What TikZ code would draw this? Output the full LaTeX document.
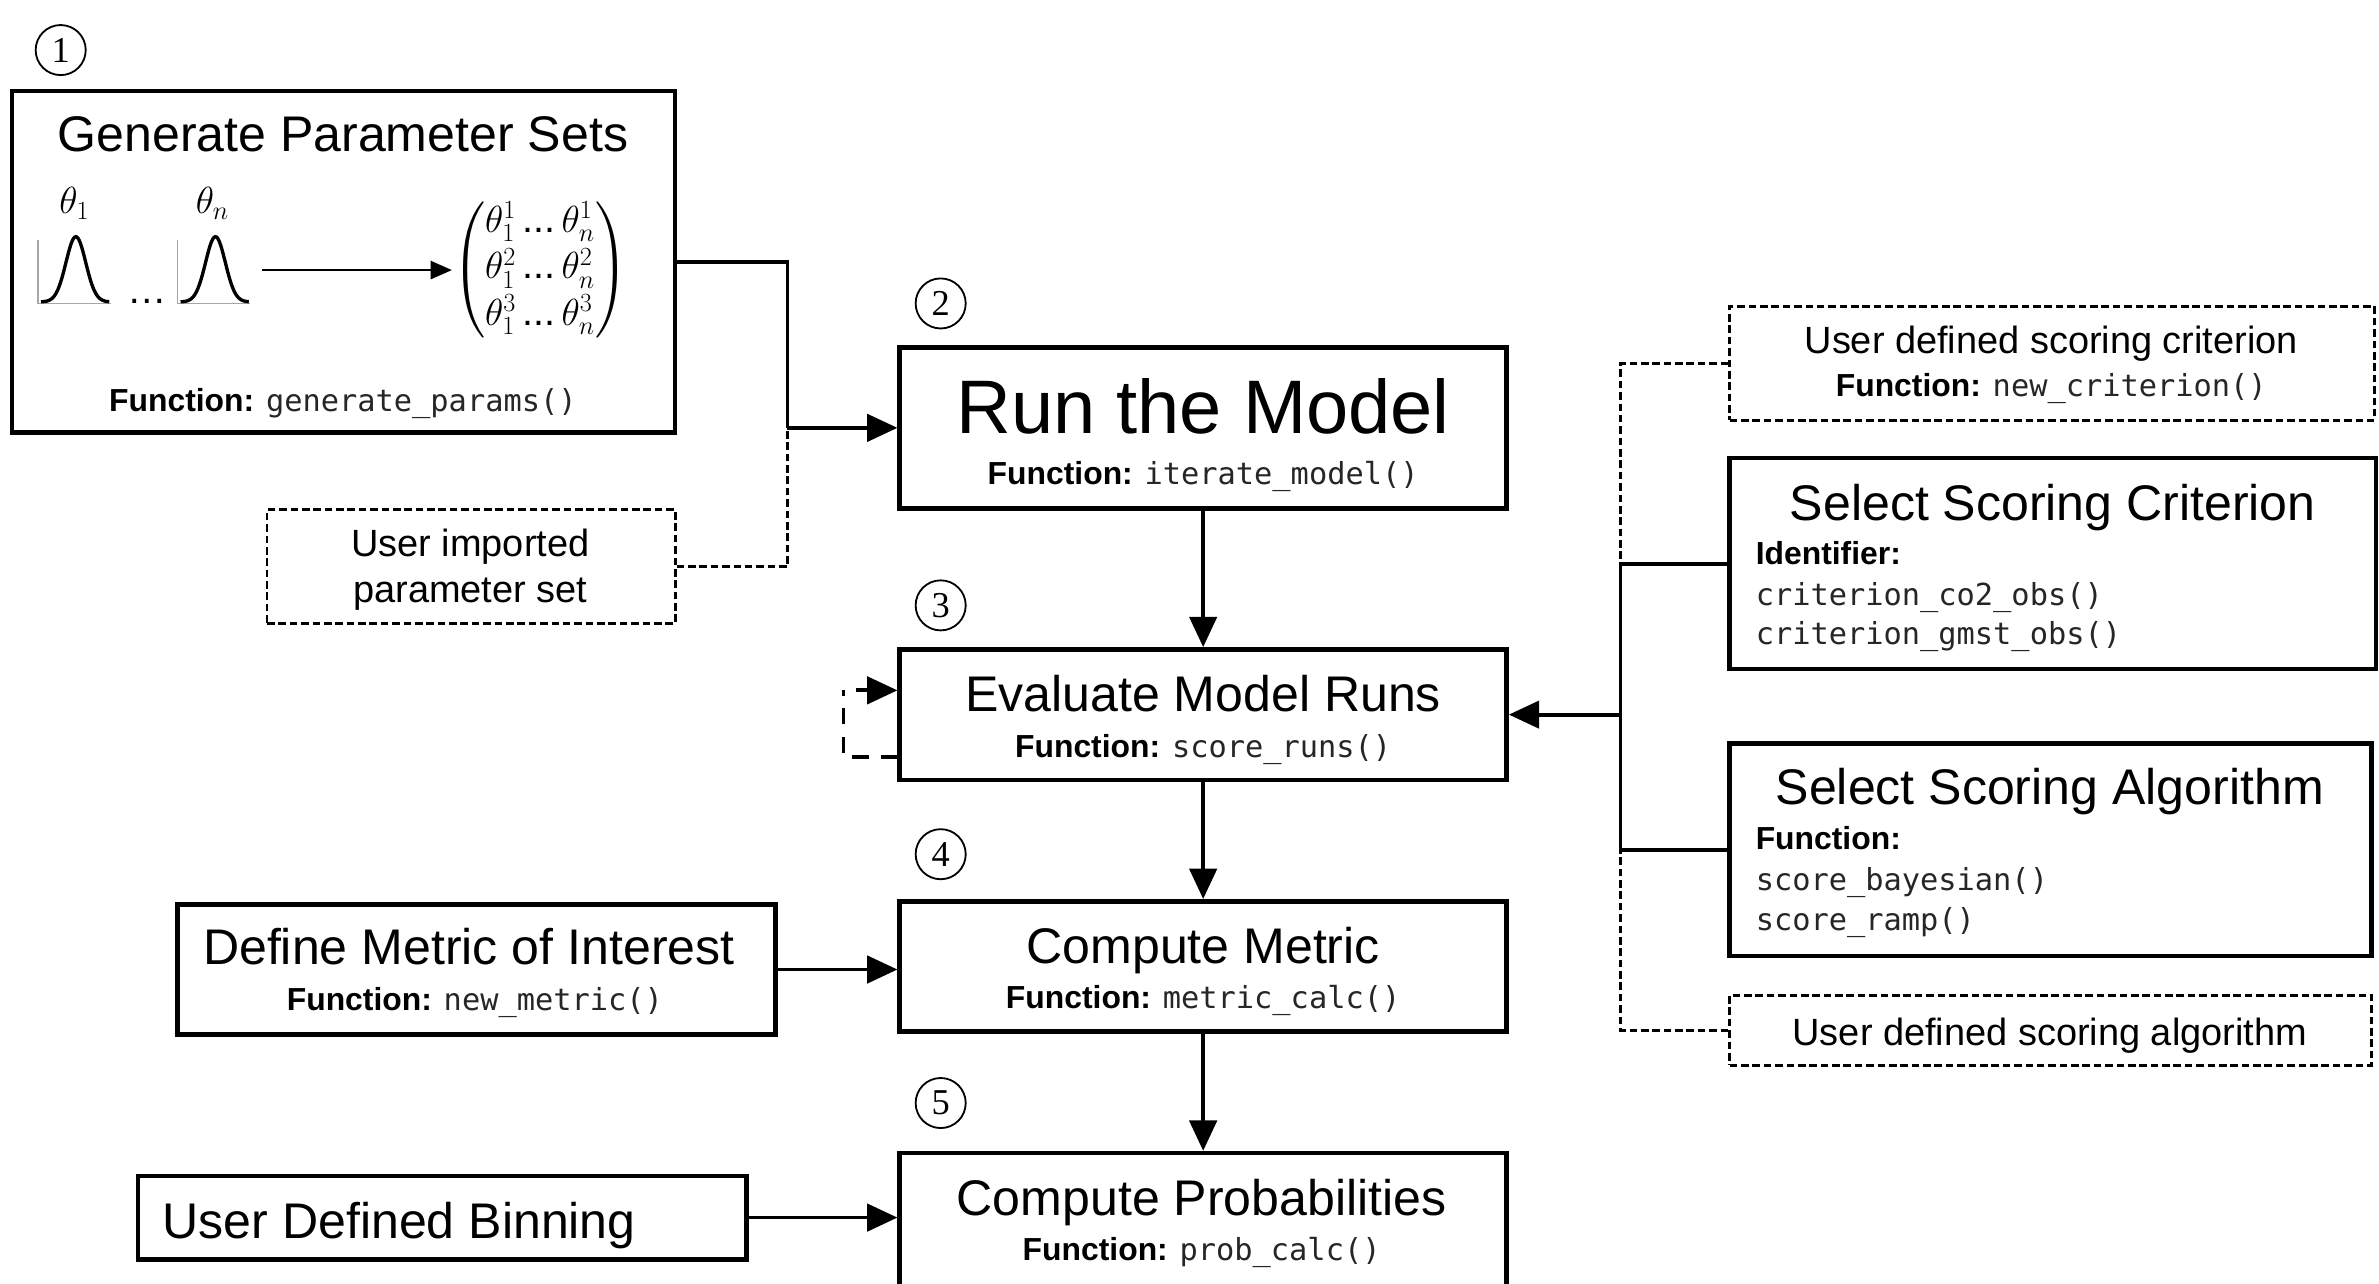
\documentclass[tikz,border=0pt]{standalone}
\usepackage{amsmath}
\usepackage{fontspec}
\setmainfont{Liberation Sans}
\newfontfamily\codefont{DejaVu Sans Mono}
\newfontfamily\numfont{Liberation Serif}
\usetikzlibrary{arrows.meta,calc}
\tikzset{
  box/.style={draw, line width=3pt, inner sep=0pt},
  dbox/.style={draw, line width=1.9pt, dash pattern=on 5pt off 2.5pt, inner sep=0pt},
  conn/.style={line width=2.5pt},
  dconn/.style={line width=1.9pt, dash pattern=on 5pt off 2.5pt},
  lconn/.style={line width=2.5pt, dash pattern=on 11pt off 8pt},
  arr/.style={-{Triangle[length=20pt,width=18pt]}},
  numc/.style={circle, draw, line width=1.2pt, minimum size=33pt, inner sep=0pt, font=\numfont\fontsize{24}{24}\selectfont},
  ttl/.style={anchor=base, inner sep=0pt, font=\fontsize{33}{38}\selectfont},
  big/.style={anchor=base, inner sep=0pt, font=\fontsize{50}{56}\selectfont},
  usr/.style={anchor=base, inner sep=0pt, font=\fontsize{25}{30}\selectfont},
  fn/.style={anchor=base, inner sep=0pt, font=\fontsize{21}{25}\selectfont},
  fnl/.style={anchor=base west, inner sep=0pt, font=\fontsize{21}{25}\selectfont},
  mth/.style={inner sep=0pt, font=\fontsize{26}{28}\selectfont},
}
\newcommand{\fnk}[1]{\textbf{#1}}
\newcommand{\cde}[1]{{\codefont\fontsize{20}{24}\selectfont\color{black!85}#1}}
\newcommand{\tdots}{\,\text{...}\,}
\begin{document}
\begin{tikzpicture}[x=1pt,y=-1pt]
\useasboundingbox (0,0) rectangle (1568,846);
\fill[white] (0,0) rectangle (1568,846);

% circled numbers
\node[numc] (c1) at (40,33) {1};
\node[numc] (c2) at (620,200) {2};
\node[numc] (c3) at (620,399) {3};
\node[numc] (c4) at (620,563) {4};
\node[numc] (c5) at (620,727) {5};

% boxes
\node[box, minimum width=437pt, minimum height=225pt] (gen) at (226.5,172.5) {};
\node[dbox, minimum width=269pt, minimum height=75pt] (imp) at (310.5,373.5) {};
\node[box, minimum width=400pt, minimum height=106pt] (run) at (793,282) {};
\node[box, minimum width=400pt, minimum height=86pt] (eval) at (793,471) {};
\node[box, minimum width=400pt, minimum height=86pt] (met) at (793,637) {};
\node[box, minimum width=394pt, minimum height=86pt] (def) at (314,639) {};
\node[box, minimum width=400pt, minimum height=88pt] (prob) at (793,804) {};
\node[box, minimum width=401pt, minimum height=55pt] (bin) at (291.5,802.5) {};
\node[dbox, minimum width=425pt, minimum height=75pt] (ucrit) at (1352.5,239.5) {};
\node[box, minimum width=426pt, minimum height=139pt] (crit) at (1353,371.5) {};
\node[box, minimum width=423pt, minimum height=140pt] (alg) at (1351.5,560) {};
\node[dbox, minimum width=423pt, minimum height=46pt] (ualg) at (1351.5,679) {};

% texts: generate box
\node[ttl] (genT) at (226,100) {Generate Parameter Sets};
\node[fn] (genF) at (226,271) {\fnk{Function:} \cde{generate\_params()}};
% gaussians
\draw[gray!70, line width=1pt] (25,158) -- (25,200) -- (73,200);
\draw[gray!70, line width=1pt] (117,158) -- (117,200) -- (165,200);
\draw[line width=2.2pt, samples=60, domain=27:72] plot ({\x},{199-43*exp(-((\x-50)/6.5)^2/2)});
\draw[line width=2.2pt, samples=60, domain=119:164] plot ({\x},{199-43*exp(-((\x-142)/6.5)^2/2)});
\node[mth] (th1) at (49,134) {$\theta_1$};
\node[mth] (thn) at (140,134) {$\theta_n$};
\node[mth, anchor=base] (dots) at (97,200) {\ldots};
\node[mth] (mat) at (356,178)
  {$\renewcommand{\arraystretch}{1.0}\left(\begin{array}{@{}c@{}}\theta_1^1\tdots\theta_n^1\\[2pt] \theta_1^2\tdots\theta_n^2\\[2pt] \theta_1^3\tdots\theta_n^3\end{array}\right)$};
\coordinate (ga) at (173,178);
\draw[line width=1.3pt, -{Triangle[length=14pt,width=12pt]}] (ga) -- (mat.west);

% user imported
\node[usr] (impT1) at (310,367) {User imported};
\node[usr] (impT2) at (310,397) {parameter set};

% run
\node[big] (runT) at (793,286) {Run the Model};
\node[fn] (runF) at (793,319) {\fnk{Function:} \cde{iterate\_model()}};
% eval
\node[ttl] (evalT) at (793,469) {Evaluate Model Runs};
\node[fn] (evalF) at (793,499) {\fnk{Function:} \cde{score\_runs()}};
% metric
\node[ttl] (metT) at (793,635) {Compute Metric};
\node[fn] (metF) at (793,665) {\fnk{Function:} \cde{metric\_calc()}};
% define
\node[ttl] (defT) at (309,636) {Define Metric of Interest};
\node[fn] (defF) at (313,666) {\fnk{Function:} \cde{new\_metric()}};
% prob
\node[ttl] (probT) at (792,801) {Compute Probabilities};
\node[fn] (probF) at (792,831) {\fnk{Function:} \cde{prob\_calc()}};
% binning
\node[ttl, anchor=base west] (binT) at (107,816) {User Defined Binning};

% right side
\node[usr] (ucritT) at (1352,233) {User defined scoring criterion};
\node[fn] (ucritF) at (1352,261) {\fnk{Function:} \cde{new\_criterion()}};
\node[ttl] (critT) at (1353,343) {Select Scoring Criterion};
\node[fnl] (critI) at (1157,372) {\fnk{Identifier:}};
\node[fnl] (critC1) at (1157,399) {\cde{criterion\_co2\_obs()}};
\node[fnl] (critC2) at (1157,425) {\cde{criterion\_gmst\_obs()}};
\node[ttl] (algT) at (1351,530) {Select Scoring Algorithm};
\node[fnl] (algI) at (1157,560) {\fnk{Function:}};
\node[fnl] (algC1) at (1157,587) {\cde{score\_bayesian()}};
\node[fnl] (algC2) at (1157,613) {\cde{score\_ramp()}};
\node[usr] (ualgT) at (1351,689) {User defined scoring algorithm};

% connectors
\coordinate (j1) at (519,282);
\draw[conn] (gen.east) -| (j1);
\draw[dconn] (imp.east) -| (j1);
\draw[conn, arr] (j1) -- (run.west);
\draw[conn, arr] (run.south) -- (eval.north);
\coordinate (lp1) at (556,499);
\coordinate (lp2) at (556,455);
\coordinate (lp3) at (564,455);
\draw[lconn] (eval.west |- lp1) -- (lp1) -- (lp2);
\draw[conn, arr] (lp3) -- (eval.west |- lp3);
\draw[conn, arr] (eval.south) -- (met.north);
\draw[conn, arr] (def.east) -- (met.west |- def.east);
\draw[conn, arr] (met.south) -- (prob.north);
\draw[conn, arr] (bin.east) -- (prob.west |- bin.east);

\coordinate (b1) at (1068,371.5);
\coordinate (b2) at (1068,560);
\coordinate (b3) at (1068,471);
\draw[conn] (crit.west) -- (b1) -- (b2) -- (alg.west);
\draw[conn, arr] (b3) -- (eval.east);
\draw[dconn] (ucrit.west) -| (b1);
\draw[dconn] (ualg.west) -| (b2);
\end{tikzpicture}
\end{document}
